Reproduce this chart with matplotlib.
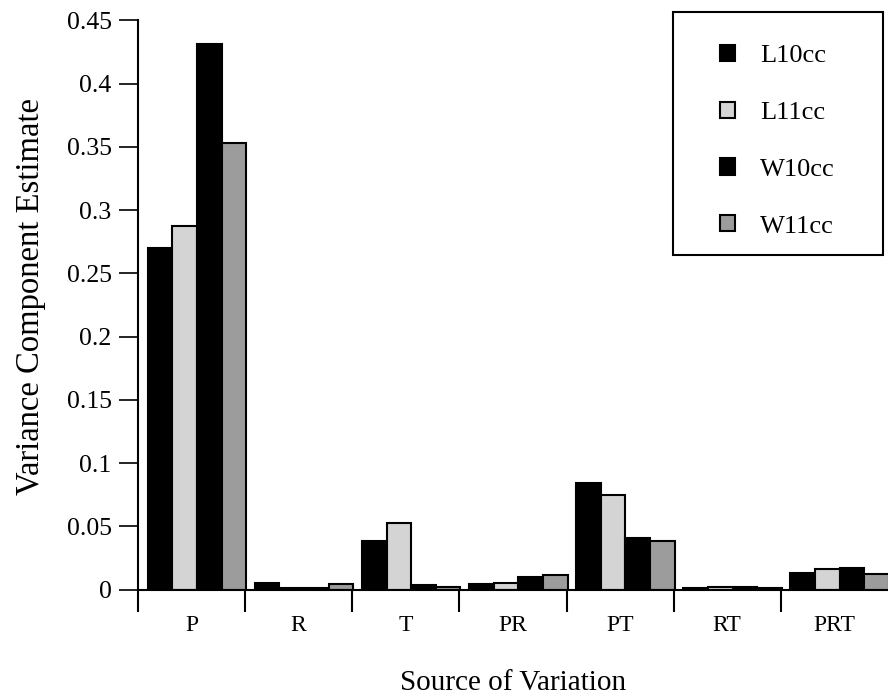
import numpy as np
import matplotlib
matplotlib.use('Agg')
import matplotlib.pyplot as plt
from matplotlib.patches import Rectangle

plt.rcParams['font.family'] = ['Liberation Serif', 'DejaVu Serif']

sources = ['P', 'R', 'T', 'PR', 'PT', 'RT', 'PRT']
series_names = ['L10cc', 'L11cc', 'W10cc', 'W11cc']

# variance component estimates
l10cc = [0.270, 0.005, 0.0385, 0.0045, 0.0845, 0.0015, 0.0134]
l11cc = [0.287, 0.001, 0.0525, 0.0055, 0.0745, 0.002, 0.016]
w10cc = [0.431, 0.0015, 0.0035, 0.010, 0.041, 0.002, 0.0168]
w11cc = [0.353, 0.0047, 0.002, 0.0116, 0.0385, 0.001, 0.0124]

fills = ['black', '#d4d4d4', 'black', '#9c9c9c']

fig = plt.figure(figsize=(8.88, 7.0), dpi=100)
ax = fig.add_axes([0.1554, 0.1576, 0.8446, 0.8135])

x = np.arange(len(sources))
width = 0.23
shift = 0.05  # groups sit slightly right of the slot centre
for i, (name, vals) in enumerate(zip(series_names, [l10cc, l11cc, w10cc, w11cc])):
    ax.bar(x + shift + (i - 1.5) * width, vals, width, color=fills[i],
           edgecolor='black', linewidth=1.5, label=name)

ax.set_xlim(-0.5, len(sources) - 0.5)
ax.set_ylim(0, 0.45)
ax.set_yticks(np.arange(0, 0.451, 0.05))
ax.set_yticklabels(['0', '0.05', '0.1', '0.15', '0.2', '0.25', '0.3', '0.35', '0.4', '0.45'])

# category labels at centres, tick marks at group boundaries
ax.set_xticks(x)
ax.set_xticklabels(sources)
ax.tick_params(axis='x', which='major', length=0, pad=18, labelsize=17)
ax.set_xticks(np.arange(-0.5, len(sources) - 0.5, 1.0), minor=True)
ax.tick_params(axis='x', which='minor', length=16, width=1.5, direction='out')
ax.tick_params(axis='y', length=14, width=1.2, direction='out', labelsize=18.5, pad=5)

for side in ['top', 'right']:
    ax.spines[side].set_visible(False)
ax.spines['left'].set_linewidth(1.5)
ax.spines['bottom'].set_linewidth(1.5)

ax.set_ylabel('Variance Component Estimate', fontsize=23.5)
ax.yaxis.set_label_coords(-0.122, 0.515)
ax.set_xlabel('Source of Variation', fontsize=21, labelpad=25)

# legend entries without frame, box drawn separately
leg = ax.legend(loc='upper left', bbox_to_anchor=(720 / 888, 1 - 45 / 700),
                bbox_transform=fig.transFigure, fontsize=19, frameon=False,
                handlelength=0.57, handleheight=0.57, handletextpad=0.95,
                labelspacing=1.3, borderpad=0, borderaxespad=0)
fig.patches.append(Rectangle((673 / 888, 1 - 255 / 700), 210 / 888, 243 / 700,
                             transform=fig.transFigure, fill=False,
                             edgecolor='black', linewidth=1.5))

fig.savefig('out.png', dpi=100)
